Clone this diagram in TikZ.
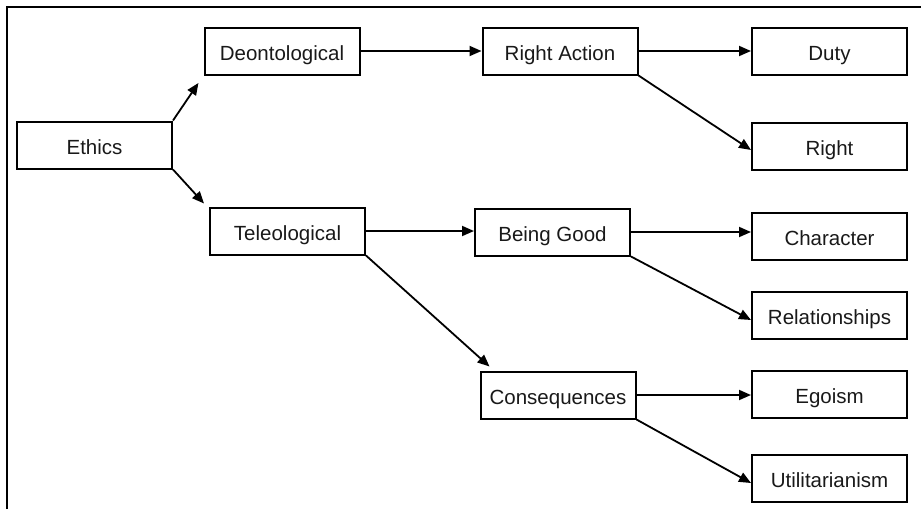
\documentclass[tikz,border=0pt]{standalone}
\usepackage{fontspec}
\setmainfont{Liberation Sans}
\usepackage{tikz}
\usetikzlibrary{arrows.meta,positioning,calc}

\begin{document}
\begin{tikzpicture}[
    x=1pt, y=-1pt,
    >={Triangle[length=12pt,width=10pt]},
    line width=2pt,
    every node/.style={font=\fontsize{20.5}{24}\selectfont, text=black!90},
    branch/.style={draw, line width=2pt, minimum width=155pt, minimum height=47pt, inner sep=0pt, text height=18pt, text depth=0pt},
    link/.style={->, line width=1.8pt}
]
\useasboundingbox (0,0) rectangle (921,509);

% frame
\draw (7,509) -- (7,7) -- (921,7);

\node[branch] (ethics) at (94.5,145) {Ethics};
\node[branch] (deon) at (282,51) {Deontological};
\node[branch] (tele) at (287.5,231) {Teleological};

\node[branch] (ract) at (560,51) {Right Action};
\node[branch] (good) at (552.5,232) {Being Good};
\node[branch] (conseq) at (558,395) {Consequences};

\node[branch] (duty) at (829.5,51) {Duty};
\node[branch, below=46pt of duty] (right) {Right};
\node[branch] (character) at (829.5,236) {Character};
\node[branch, below=30pt of character] (rel) {Relationships};
\node[branch] (ego) at (829.5,394) {Egoism};
\node[branch, below=35pt of ego] (util) {Utilitarianism};

\draw[link, shorten >=9pt] (ethics.north east) -- (deon.south west);
\draw[link] (ethics.south east) -- ($(tele.north west)+(-5,-3)$);
\draw[link] (deon.east) -- (ract.west);
\draw[link] (ract.east) -- (duty.west);
\draw[link] (ract.south east) -- ([yshift=-4pt]right.west);
\draw[link] (tele.east) -- (tele.east -| good.west);
\draw[link] (tele.south east) -- ($(conseq.north west)+(10,-4)$);
\draw[link] (good.east) -- (good.east -| character.west);
\draw[link] (good.south east) -- ([yshift=-5pt]rel.west);
\draw[link] (conseq.east) -- (conseq.east -| ego.west);
\draw[link] (conseq.south east) -- ([yshift=-5pt]util.west);

\end{tikzpicture}
\end{document}
